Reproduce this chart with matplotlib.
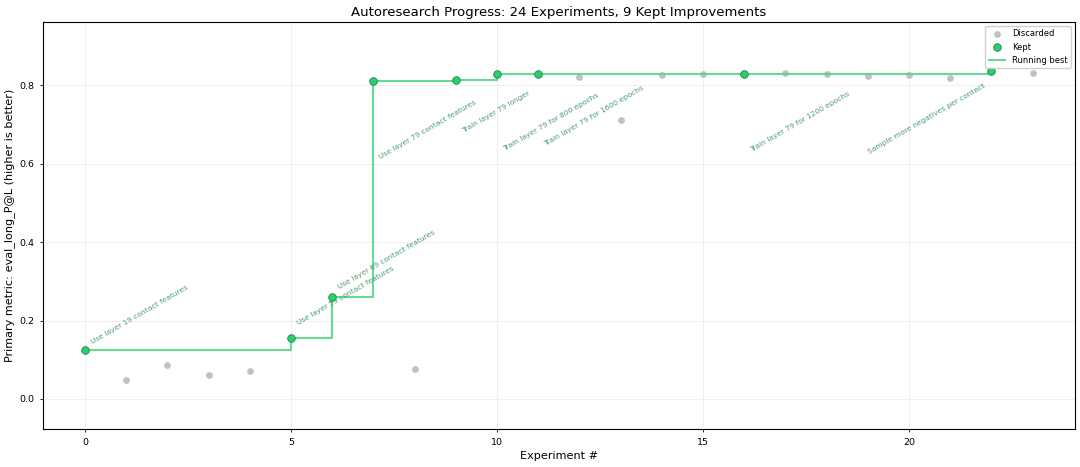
import matplotlib
matplotlib.use("Agg")
import matplotlib.pyplot as plt

experiments = list(range(24))
metric = [0.125, 0.048, 0.087, 0.062, 0.072, 0.156, 0.260, 0.811, 0.077, 0.815,
          0.828, 0.829, 0.821, 0.712, 0.826, 0.830, 0.830, 0.831, 0.830, 0.823,
          0.827, 0.818, 0.836, 0.831]
kept_idx = [0, 5, 6, 7, 9, 10, 11, 16, 22]
kept_labels = [
    "Use layer 19 contact features",
    "Use layer 59 contact features",
    "Use layer 69 contact features",
    "Use layer 79 contact features",
    "Train layer 79 longer",
    "Train layer 79 for 800 epochs",
    "Train layer 79 for 1600 epochs",
    "Train layer 79 for 1200 epochs",
    "Sample more negatives per contact",
]

disc_idx = [i for i in experiments if i not in kept_idx]
disc_x = disc_idx
disc_y = [metric[i] for i in disc_idx]
kept_x = kept_idx
kept_y = [metric[i] for i in kept_idx]

# running best step line
run_x, run_y = [], []
best = None
for i in experiments:
    if i in kept_idx:
        best = metric[i]
    run_x.append(i)
    run_y.append(best)
last = kept_idx[-1]
run_x = run_x[:last + 1]
run_y = run_y[:last + 1]

fig, ax = plt.subplots(figsize=(10.8, 4.67), dpi=100)
fig.subplots_adjust(left=0.0398, right=0.9954, top=0.953, bottom=0.081)

ax.scatter(disc_x, disc_y, s=24, color="#bbbbbb", alpha=0.9, zorder=2, label="Discarded", linewidths=0)
ax.scatter(kept_x, kept_y, s=30, color="#2ecc71", edgecolors="#1e8449", linewidths=0.6, zorder=4, label="Kept")
ax.step(run_x, run_y, where="post", color="#58d68d", linewidth=1.5, alpha=0.9, zorder=3, label="Running best")

# annotation placement (pixel offsets, alignment)
offsets = [
    (5, 5, "left", "bottom"),
    (5, 12, "left", "bottom"),
    (5, 7, "left", "bottom"),
    (5, -18, "left", "top"),
    (5, -11, "left", "top"),
    (5, -18, "left", "top"),
    (5, -11, "left", "top"),
    (5, -17, "left", "top"),
    (-5, -11, "right", "top"),
]
for (x, y, lab, (dx, dy, ha, va)) in zip(kept_x, kept_y, kept_labels, offsets):
    ax.annotate(lab, (x, y), xytext=(dx, dy), textcoords="offset pixels",
                fontsize=5.4, color="#2e8b57", alpha=0.85, rotation=30,
                ha=ha, va=va)

ax.set_xlim(-1.02, 24.03)
ax.set_ylim(-0.077, 0.962)
ax.set_xticks([0, 5, 10, 15, 20])
ax.set_yticks([0.0, 0.2, 0.4, 0.6, 0.8])
ax.tick_params(labelsize=6.8, length=2.5, width=0.6)
ax.grid(True, color="#e8e8e8", linewidth=0.6, alpha=0.8)
ax.set_axisbelow(True)
for s in ax.spines.values():
    s.set_linewidth(0.8)
ax.set_xlabel("Experiment #", fontsize=8.1, labelpad=3)
ax.set_ylabel("Primary metric: eval_long_P@L (higher is better)", fontsize=8.1, labelpad=3)
ax.set_title("Autoresearch Progress: 24 Experiments, 9 Kept Improvements", fontsize=9.5, pad=4)
ax.legend(loc="upper right", fontsize=6, framealpha=0.9, borderpad=0.4, handlelength=2.0)

fig.savefig("out.png", dpi=100)
